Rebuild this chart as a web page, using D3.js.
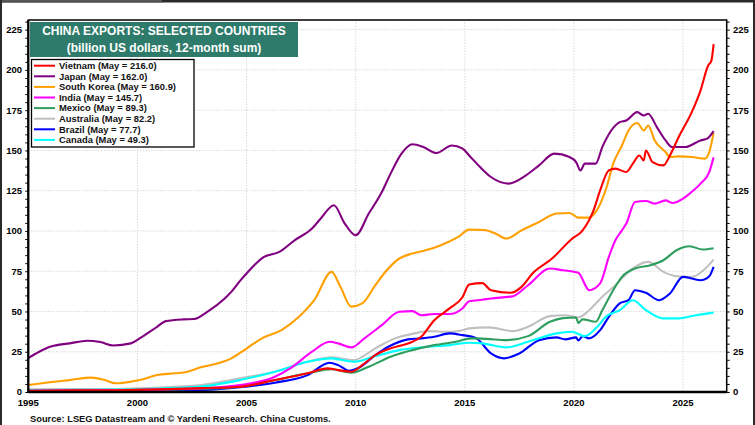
<!DOCTYPE html>
<html><head><meta charset="utf-8">
<script src="https://cdn.jsdelivr.net/npm/d3@7"></script>
<style>
html,body{margin:0;padding:0;background:#fff;}
svg{display:block;}
text{font-family:Arial,"Liberation Sans",sans-serif;font-weight:bold;}
</style></head><body>
<svg id="c" width="755" height="425"></svg>
<script>
// ---- data (decimal year, billion US$) ----
const vietnam=[[1995,0.7],[1997,1.0],[1999,1.1],[2001,1.6],[2003,2.4],[2004.7,3.3],[2006.3,7.4],[2007.8,11.6],[2008.7,14.7],[2009.2,13.6],[2009.8,12.6],[2010.3,16.7],[2010.9,22.9],[2011.6,27.1],[2012.6,31.2],[2013.0,34.3],[2013.6,44.6],[2014.3,51.9],[2014.9,59],[2015.2,66.8],[2015.8,67.6],[2016.2,63.2],[2017.1,61.6],[2017.6,65.3],[2018.1,73.6],[2019.0,82.9],[2019.9,95],[2020.4,100.4],[2020.9,112.8],[2021.2,125.2],[2021.6,137.6],[2021.9,138.7],[2022.4,136.6],[2022.7,141.8],[2023.0,146.9],[2023.2,143.8],[2023.3,150.0],[2023.6,142.8],[2024.1,140.7],[2024.4,146.9],[2024.8,158.3],[2025.4,173.8],[2025.8,187.2],[2026.15,202.7],[2026.3,205.8],[2026.4,216.0]];
const japan=[[1995.0,21],[1995.5,25],[1996.0,28.1],[1996.9,30.2],[1997.7,31.8],[1998.3,31.0],[1998.9,28.9],[1999.7,30.2],[2000.1,33.3],[2000.9,40.5],[2001.3,44.0],[2002.1,45.1],[2002.6,45.3],[2003.2,49.8],[2004.0,58.1],[2004.3,62.2],[2004.7,69.0],[2005.0,73.6],[2005.8,83.9],[2006.5,87.0],[2007.2,94.2],[2008.0,101.5],[2008.4,107.7],[2009.0,116],[2009.5,104.6],[2010.0,97.3],[2010.6,110.8],[2011.2,124.2],[2011.6,135.6],[2012.1,148.0],[2012.6,153.8],[2013.1,152.1],[2013.7,148.4],[2014.4,153.1],[2014.9,151.1],[2015.2,146.9],[2015.7,139.7],[2016.2,133.5],[2017.0,129.4],[2017.8,134.5],[2018.4,140.7],[2019.1,148.0],[2019.8,145.9],[2020.1,142.8],[2020.3,137.6],[2020.5,141.8],[2021.0,141.8],[2021.3,152.1],[2022.1,167.6],[2022.4,168.6],[2022.9,173.8],[2023.2,171.7],[2023.4,172.8],[2023.8,164.5],[2024.2,156.2],[2024.5,152.1],[2025.1,152.1],[2025.8,156.2],[2026.1,157.3],[2026.4,162.0]];
const southKorea=[[1995,4.3],[1996.2,6.4],[1996.9,7.4],[1997.9,8.9],[1998.5,7.4],[1999.0,5.4],[1999.5,6.0],[2000.1,7.4],[2000.9,10.5],[2001.7,11.6],[2002.3,12.6],[2002.9,15.3],[2003.7,17.8],[2004.3,20.9],[2005.0,27],[2005.7,33.3],[2006.6,38.4],[2007.4,46.7],[2008.1,57.0],[2008.9,74.6],[2009.3,65.3],[2009.8,53],[2010.3,55.0],[2010.9,66.3],[2011.3,73.6],[2012.0,82.9],[2012.6,86.0],[2013.2,88.0],[2013.9,91.1],[2014.7,96.3],[2015.2,100.8],[2015.9,100.6],[2016.4,98.4],[2016.9,95.3],[2017.6,100.4],[2018.4,105.6],[2019.2,110.8],[2019.8,111.2],[2020.2,108.3],[2020.7,108.3],[2021.0,111.8],[2021.5,127.3],[2021.8,141.8],[2022.2,153.1],[2022.5,162.4],[2022.9,167.0],[2023.2,162.4],[2023.4,165.5],[2023.7,156.2],[2024.2,149.0],[2024.4,145.9],[2024.8,146.3],[2025.4,145.9],[2026.0,144.9],[2026.2,149.0],[2026.4,160.9]];
const india=[[1995,0.8],[1997,1.0],[1999,1.1],[2001,1.5],[2003,2.3],[2004.7,4.3],[2006.3,9.5],[2007.0,14.7],[2008.0,25.0],[2008.8,31.2],[2009.2,30.2],[2009.8,27.7],[2010.4,33.3],[2011.2,41.5],[2012.0,49.8],[2012.6,50.2],[2013.0,47.7],[2013.6,48.4],[2014.3,48.4],[2014.9,52],[2015.2,56.3],[2015.8,57.3],[2016.2,58.1],[2017.2,59.5],[2017.9,66.3],[2018.9,76.7],[2019.5,75.6],[2020.2,74.0],[2020.7,63.2],[2021.2,67.4],[2021.6,83.9],[2021.9,94.2],[2022.2,100.4],[2022.4,104.6],[2022.8,118.0],[2023.3,118.6],[2023.7,117.0],[2024.2,119.0],[2024.5,117.4],[2025.0,120.1],[2025.3,123.2],[2025.8,129.4],[2026.2,136.6],[2026.4,145.7]];
const mexico=[[1995,0.3],[1997,0.5],[1999,0.7],[2001,1.2],[2003,2.0],[2004.7,3.3],[2006.3,7.4],[2007.8,11.6],[2008.9,14.1],[2009.8,12.0],[2010.6,15.7],[2011.6,21.9],[2012.6,26.0],[2013.6,29.1],[2014.6,31.2],[2015.3,33.3],[2016.0,33.0],[2016.9,32.2],[2017.9,34.7],[2018.9,43.6],[2019.5,45.9],[2020.1,46.3],[2020.2,42.8],[2020.4,45.1],[2021.0,43.6],[2021.3,50.8],[2021.8,63.2],[2022.2,71.5],[2022.8,76.7],[2023.5,78.7],[2024.1,81.8],[2024.7,88.0],[2025.3,90.5],[2025.9,88.5],[2026.4,89.3]];
const australia=[[1995,1.6],[1997,1.8],[1999,1.9],[2001,2.8],[2003,4.5],[2004.7,8.5],[2006.3,12.6],[2007.8,18.8],[2008.9,21.5],[2009.9,19.8],[2010.9,27.1],[2011.8,33.3],[2012.7,36.4],[2013.3,37.8],[2014.3,37.4],[2014.9,38.4],[2015.2,39.5],[2016.1,40.1],[2017.2,37.8],[2017.9,40.5],[2018.9,47.1],[2019.6,47.7],[2020.2,46.3],[2020.7,50.8],[2021.3,59.1],[2021.9,66.3],[2022.5,74.6],[2022.8,77.7],[2023.4,80.8],[2024.1,74.6],[2024.7,71.9],[2025.4,71.5],[2025.9,75.2],[2026.4,82.2]];
const brazil=[[1995,0.3],[1997,0.5],[1999,0.4],[2001,0.8],[2003,1.2],[2004.7,2.9],[2006.3,5.8],[2007.8,10.5],[2008.8,18.2],[2009.2,16.7],[2009.7,13.2],[2010.1,14.7],[2010.9,22.9],[2011.5,28.1],[2012.4,32.7],[2013.0,33.3],[2013.6,34.3],[2014.3,36.4],[2014.9,35.3],[2015.5,33.6],[2016.2,24.0],[2016.8,20.9],[2017.5,24.0],[2018.4,32.2],[2019.2,33.9],[2019.6,32.7],[2020.1,33.9],[2020.2,32],[2020.4,34.7],[2020.7,33.3],[2021.2,38.4],[2021.6,46.7],[2022.1,55.0],[2022.5,57.0],[2022.8,63.2],[2023.3,61.6],[2023.9,57.0],[2024.4,61.2],[2025.0,71.5],[2025.4,70.5],[2025.8,69.4],[2026.2,71.9],[2026.4,77.7]];
const canada=[[1995,1.1],[1997,1.3],[1999,1.5],[2001,2.2],[2003,3.5],[2004.7,7.4],[2006.3,12.6],[2007.8,18.8],[2008.9,20.9],[2009.9,18.8],[2010.9,22.3],[2012.0,26.0],[2013.0,27.7],[2014.3,29.1],[2015.2,30.6],[2015.8,30.2],[2016.9,27.7],[2017.9,31.2],[2019.2,36.4],[2019.9,37.4],[2020.5,34.7],[2021.0,39.5],[2021.5,47.1],[2022.1,50.8],[2022.7,57.0],[2023.3,50.8],[2024.1,45.7],[2024.8,45.7],[2025.6,47.7],[2026.4,49.3]];

const seriesNames=["Vietnam","Japan","South Korea","India","Mexico","Australia","Brazil","Canada"];
const seriesLatest=["216.0","162.0","160.9","145.7","89.3","82.2","77.7","49.3"];
const seriesColors=["#ff0000","#800080","#ffa000","#ff00ff","#2e9e5e","#c0c0c0","#0000ff","#00ffff"];
const seriesData=[vietnam,japan,southKorea,india,mexico,australia,brazil,canada];
const yTicks=[0,25,50,75,100,125,150,175,200,225];
const xTicks=[1995,2000,2005,2010,2015,2020,2025];
const titleLines=["CHINA EXPORTS: SELECTED COUNTRIES","(billion US dollars, 12-month sum)"];
const sourceText="Source: LSEG Datastream and © Yardeni Research. China Customs.";

const svg=d3.select("#c");
const L=28.3,R=726.7,T=20,B=392;
const x=d3.scaleLinear().domain([1995,2027]).range([L,R]);
const y=d3.scaleLinear().domain([0,231]).range([B,T]);

// outer dark edges
svg.append("rect").attr("x",0).attr("y",0).attr("width",755).attr("height",2.5).attr("fill","#2a2a2a");
svg.append("rect").attr("x",0).attr("y",0).attr("width",162).attr("height",2.5).attr("fill","#555");
svg.append("rect").attr("x",0).attr("y",0).attr("width",2).attr("height",425).attr("fill","#2a2a2a");
svg.append("rect").attr("x",753).attr("y",0).attr("width",2).attr("height",425).attr("fill","#2a2a2a");

// grid
const g=svg.append("g");
g.selectAll("line.hg").data(yTicks.filter(d=>d>0)).join("line")
 .attr("x1",L).attr("x2",R).attr("y1",d=>y(d)).attr("y2",d=>y(d))
 .attr("stroke","#c8c8c8").attr("stroke-width",0.8).attr("stroke-dasharray","1.2,1.6");
g.selectAll("line.vg").data(xTicks.slice(1)).join("line")
 .attr("y1",T).attr("y2",B).attr("x1",d=>x(d)).attr("x2",d=>x(d))
 .attr("stroke","#c8c8c8").attr("stroke-width",0.8).attr("stroke-dasharray","1.2,1.6");

// lines
const line=d3.line().x(d=>x(d[0])).y(d=>y(d[1])).curve(d3.curveMonotoneX);
const order=[5,6,7,4,3,2,1,0];
order.forEach(i=>{
  svg.append("path").datum(seriesData[i]).attr("d",line)
   .attr("fill","none").attr("stroke",seriesColors[i]).attr("stroke-width",2.1)
   .attr("stroke-linejoin","round");
});

// axes
const minor=d3.range(0,231,5);
const yl=d3.axisLeft(y).tickValues(minor).tickSize(3).tickFormat("");
const yr=d3.axisRight(y).tickValues(minor).tickSize(3).tickFormat("");
svg.append("g").attr("transform",`translate(${L},0)`).call(yl).call(s=>s.select(".domain").remove()).selectAll("line").attr("stroke","#000");
svg.append("g").attr("transform",`translate(${R},0)`).call(yr).call(s=>s.select(".domain").remove()).selectAll("line").attr("stroke","#000");
svg.append("g").selectAll("text").data(yTicks).join("text")
 .attr("x",22).attr("y",d=>y(d)).attr("dy","0.35em").attr("text-anchor","end")
 .attr("font-size",9.5).text(d=>d);
svg.append("g").selectAll("text").data(yTicks).join("text")
 .attr("x",733).attr("y",d=>y(d)).attr("dy","0.35em").attr("text-anchor","start")
 .attr("font-size",9.5).text(d=>d);
svg.append("g").selectAll("text").data(xTicks).join("text")
 .attr("x",d=>x(d)).attr("y",406).attr("text-anchor","middle")
 .attr("font-size",9.5).text(d=>d);

// frame
svg.append("rect").attr("x",L).attr("y",T).attr("width",R-L).attr("height",B-T)
 .attr("fill","none").attr("stroke","#000").attr("stroke-width",1.5);
svg.append("line").attr("x1",L).attr("x2",R).attr("y1",B).attr("y2",B).attr("stroke","#000").attr("stroke-width",2.5);
svg.append("line").attr("x1",L).attr("x2",L).attr("y1",T).attr("y2",B).attr("stroke","#000").attr("stroke-width",2.2);

// title box
svg.append("rect").attr("x",30).attr("y",22).attr("width",268).attr("height",35).attr("fill","#2e7b6b");
svg.selectAll("text.t").data(titleLines).join("text")
 .attr("x",164).attr("y",(d,i)=>35+i*16.5).attr("text-anchor","middle")
 .attr("font-size",12).attr("fill","#fff").text(d=>d);

// legend
svg.append("rect").attr("x",31.5).attr("y",59.5).attr("width",162.5).attr("height",87.5)
 .attr("fill","#fff").attr("stroke","#000").attr("stroke-width",1.3);
const lg=svg.append("g");
seriesNames.forEach((n,i)=>{
  const yy=65.7+i*10.6;
  lg.append("line").attr("x1",34).attr("x2",55).attr("y1",yy).attr("y2",yy)
    .attr("stroke",seriesColors[i]).attr("stroke-width",2);
  lg.append("text").attr("x",59).attr("y",yy).attr("dy","0.35em")
    .attr("font-size",9.4).attr("fill","#111").text(`${n} (May = ${seriesLatest[i]})`);
});

// source
svg.append("text").attr("x",30).attr("y",422).attr("font-size",9.3).attr("fill","#111").text(sourceText);
</script></body></html>
